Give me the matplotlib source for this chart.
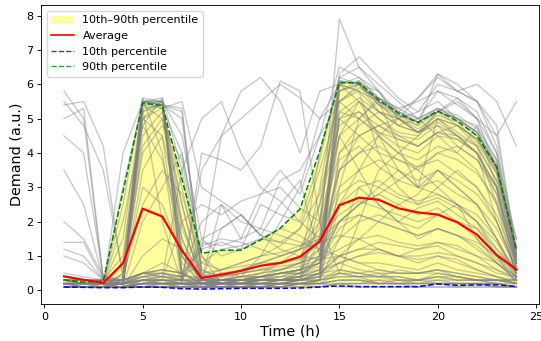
import matplotlib
matplotlib.use("Agg")
import matplotlib.pyplot as plt
from matplotlib.patches import Patch
from matplotlib.lines import Line2D

hours = list(range(1, 25))

avg = [0.41, 0.31, 0.22, 0.79, 2.38, 2.15, 1.16, 0.36, 0.46, 0.57, 0.72, 0.80,
       0.98, 1.43, 2.48, 2.70, 2.64, 2.39, 2.27, 2.21, 1.98, 1.62, 1.03, 0.61]
p10 = [0.10, 0.09, 0.08, 0.08, 0.10, 0.09, 0.05, 0.04, 0.05, 0.06, 0.06, 0.06,
       0.07, 0.10, 0.13, 0.11, 0.11, 0.11, 0.11, 0.19, 0.15, 0.16, 0.16, 0.12]
p90 = [0.31, 0.24, 0.27, 2.87, 5.45, 5.38, 3.23, 1.08, 1.17, 1.17, 1.47, 1.81,
       2.37, 4.05, 6.05, 6.04, 5.55, 5.16, 4.88, 5.23, 4.93, 4.50, 3.60, 1.18]

profiles = [
    [0.1,0.1,0.1,0.8,5.5,5.4,0.3,0.1,0.1,0.1,0.1,0.1,0.1,0.1,0.2,0.1,0.1,0.1,0.1,0.2,0.1,0.1,0.1,0.1],
    [0.2,0.1,0.1,0.2,5.4,5.5,1.5,0.1,0.2,0.1,0.1,0.2,0.1,0.3,0.5,0.4,0.2,0.3,0.2,0.3,0.2,0.2,0.2,0.1],
    [0.1,0.1,0.2,2.5,5.6,4.0,0.2,0.1,0.1,0.1,0.2,0.2,0.2,0.2,0.1,0.1,0.1,0.1,0.1,0.1,0.1,0.1,0.1,0.1],
    [0.1,0.1,0.1,0.1,4.8,5.6,3.5,0.3,0.2,0.3,0.2,0.1,0.2,0.1,0.2,0.2,0.3,0.2,0.1,0.1,0.1,0.2,0.1,0.1],
    [0.2,0.1,0.1,0.3,5.3,2.0,0.2,0.2,0.3,0.2,0.4,0.3,0.5,0.8,5.8,6.0,5.5,4.2,3.0,5.0,4.5,4.0,2.0,0.5],
    [0.1,0.1,0.1,0.1,0.1,0.2,0.1,0.1,0.1,0.2,0.1,0.2,0.3,1.0,6.0,6.1,5.6,5.2,4.9,5.3,5.0,4.6,3.7,1.0],
    [0.3,0.2,0.2,0.2,0.3,0.2,0.2,0.1,0.2,0.2,0.3,0.4,0.6,4.0,6.2,6.5,6.0,5.5,5.0,5.8,5.6,5.2,4.0,0.8],
    [0.1,0.1,0.1,0.1,0.2,0.2,0.1,0.1,0.1,0.1,0.2,0.2,0.2,0.3,3.0,5.0,5.5,4.8,5.0,4.5,4.0,4.8,3.0,0.3],
    [0.1,0.1,0.1,0.1,0.1,0.1,0.1,0.1,0.2,0.3,0.5,0.8,1.2,2.0,4.5,3.5,2.5,2.0,1.8,2.2,2.5,1.5,0.8,0.4],
    [0.4,0.3,0.2,0.2,0.5,0.4,0.3,0.2,0.2,0.3,0.3,0.3,0.4,0.5,0.6,0.5,0.6,0.5,0.5,0.6,0.5,0.4,0.3,0.3],
    [0.1,0.1,0.1,0.1,0.2,0.3,0.2,0.1,0.1,0.1,0.1,0.2,0.2,0.2,0.3,0.3,0.2,0.2,0.3,0.2,0.2,0.2,0.1,0.1],
    [5.8,5.0,0.3,0.2,5.2,5.5,0.5,0.2,0.3,0.2,0.2,0.3,0.3,0.4,0.5,0.5,0.4,0.4,0.3,0.5,0.4,0.3,0.3,0.2],
    [5.4,5.5,4.2,0.3,0.4,0.5,0.3,0.3,0.2,0.2,0.3,0.3,0.3,2.5,4.8,5.2,4.8,4.5,4.2,4.6,4.8,4.2,2.5,0.4],
    [5.0,5.3,0.3,0.2,0.4,0.3,0.2,0.2,0.2,0.3,0.3,0.3,0.3,0.4,0.8,0.6,0.5,0.5,0.5,0.6,0.5,0.4,0.3,0.3],
    [0.1,0.1,0.1,0.1,0.2,0.2,0.3,1.2,4.5,5.8,6.2,5.5,4.0,5.8,6.0,5.8,5.2,5.0,4.6,5.2,5.5,5.0,3.5,1.5],
    [0.1,0.1,0.1,0.2,0.2,0.2,0.2,4.0,3.8,3.5,4.2,6.1,5.8,2.0,0.5,0.4,0.5,0.3,0.3,0.4,0.4,0.3,0.3,0.2],
    [0.2,0.2,0.2,0.2,0.3,0.3,2.0,2.5,2.2,2.6,2.8,3.0,2.4,2.0,6.3,6.8,6.2,5.6,5.2,6.0,5.8,5.5,4.2,1.0],
    [0.1,0.1,0.1,0.5,5.6,5.5,4.5,1.5,1.0,1.2,1.5,1.8,1.6,1.2,1.0,0.8,0.6,0.5,0.5,0.6,0.4,0.3,0.3,0.2],
    [0.2,0.2,0.1,0.1,0.2,0.2,0.2,0.2,0.3,0.3,0.4,0.5,0.6,0.9,2.0,2.5,3.0,3.5,3.0,2.8,2.5,2.0,1.2,0.5],
    [0.1,0.1,0.1,0.1,0.1,0.2,0.2,0.2,0.2,0.2,0.2,0.3,0.3,0.5,1.0,1.5,2.0,2.5,2.8,3.5,3.0,2.5,1.5,0.3],
    [0.3,0.3,0.3,0.3,3.0,2.5,1.0,0.3,0.3,0.3,0.3,0.3,0.3,0.3,0.4,0.4,0.4,0.3,0.3,0.4,0.3,0.3,0.3,0.3],
    [0.1,0.1,0.1,4.0,5.5,5.4,5.0,0.5,0.2,0.2,0.2,0.2,0.2,0.2,0.3,0.3,0.2,0.2,0.2,0.2,0.2,0.2,0.2,0.1],
    [0.1,0.1,0.1,0.2,4.2,5.0,2.5,0.3,0.2,0.2,0.3,0.3,0.4,1.0,4.5,5.5,5.0,4.6,4.5,5.0,4.8,4.4,3.5,1.2],
    [0.1,0.1,0.1,0.1,0.1,0.1,0.1,0.1,0.1,0.1,0.1,0.1,0.2,0.2,0.5,2.0,3.5,4.0,4.5,5.2,5.6,5.0,4.0,1.5],
    [0.2,0.2,0.2,0.2,0.2,0.2,0.2,0.2,0.2,0.2,0.3,0.3,0.3,0.4,5.5,5.8,4.0,3.0,2.5,3.0,3.5,3.0,2.0,0.6],
    [1.4,1.4,0.3,0.3,0.3,0.4,0.4,1.3,1.5,1.4,1.2,1.0,1.2,1.4,1.6,1.5,1.2,1.0,1.2,1.3,1.0,0.8,0.5,0.4],
    [4.5,4.0,0.4,0.3,0.5,0.4,0.3,3.5,4.5,5.0,5.5,6.0,5.6,5.0,5.5,6.0,5.8,5.2,5.6,6.2,5.8,5.5,4.8,1.0],
    [0.1,0.1,0.1,0.3,5.5,5.5,2.0,0.2,0.1,0.1,0.1,0.1,0.2,0.3,0.6,0.5,0.4,0.6,0.5,0.5,0.4,0.3,0.2,0.1],
    [0.1,0.1,0.1,0.1,2.0,3.0,4.0,1.0,0.2,0.2,0.2,0.2,0.2,0.3,1.5,3.0,2.5,2.0,1.5,1.8,1.6,1.2,0.8,0.3],
    [0.3,0.2,0.2,0.2,0.3,0.3,0.3,0.3,0.3,0.4,0.5,0.6,0.8,1.5,5.0,4.5,4.0,3.8,3.5,4.0,4.2,3.8,3.0,0.8],
    [0.1,0.1,0.1,0.1,0.1,0.1,0.1,0.1,0.1,0.1,0.1,0.1,0.1,0.1,0.2,0.2,0.2,0.2,0.2,0.2,0.2,0.2,0.2,0.1],
    [0.2,0.1,0.1,0.1,0.3,0.2,0.2,0.3,2.5,2.0,1.8,3.2,3.5,4.5,6.5,6.2,5.8,5.0,5.2,5.5,5.0,4.8,3.8,0.9],
    [0.1,0.1,0.1,0.3,5.4,5.3,1.0,0.1,0.1,0.1,0.1,0.2,0.2,0.2,0.2,0.2,0.2,0.2,0.2,0.2,0.2,0.2,0.2,0.1],
    [0.1,0.1,0.1,0.1,1.0,1.5,1.2,0.2,0.1,0.1,0.1,0.1,0.2,0.3,2.5,3.5,4.5,4.0,3.5,3.0,2.5,2.0,1.0,0.2],
    [5.5,4.8,3.5,0.5,5.5,5.6,1.0,0.3,0.3,0.3,0.3,0.3,0.3,0.5,1.0,0.8,0.8,0.7,0.6,0.8,0.6,0.5,0.4,0.3],
    [0.1,0.1,0.1,0.2,0.5,0.8,0.5,0.2,0.2,0.2,0.3,0.5,0.5,0.6,0.8,1.0,1.2,1.0,0.8,1.0,0.9,0.6,0.4,0.2],
    [0.2,0.2,0.2,0.2,5.0,4.5,0.5,0.2,0.2,0.2,0.2,0.2,0.3,0.5,6.0,6.2,5.6,5.3,5.0,5.3,5.1,4.7,3.8,1.3],
    [0.1,0.1,0.1,0.1,0.1,0.1,0.2,0.2,0.2,0.2,0.2,0.3,0.5,2.0,6.1,6.0,5.4,5.1,4.8,5.2,5.0,4.5,3.5,0.8],
    [0.1,0.1,0.1,0.1,0.2,0.2,0.2,0.2,0.3,0.4,1.0,2.0,3.0,5.0,6.0,5.5,4.5,3.5,3.0,3.5,3.0,2.5,1.5,0.5],
    [0.3,0.2,0.2,1.5,5.5,5.4,5.3,0.4,0.3,0.3,0.3,0.3,0.3,0.3,0.4,0.4,0.4,0.4,0.3,0.4,0.3,0.3,0.3,0.2],
    [3.5,2.5,0.3,0.2,0.3,0.3,0.2,0.2,0.2,0.2,0.2,0.2,0.3,0.3,4.0,4.5,4.8,5.0,4.6,4.8,4.2,3.8,2.8,0.6],
    [0.1,0.1,0.1,0.1,0.1,0.1,0.1,0.3,1.8,2.2,1.6,1.4,1.8,2.8,5.2,5.0,5.6,5.3,5.5,5.8,5.4,5.0,4.5,1.2],
    [0.2,0.2,0.2,0.2,5.0,5.5,0.3,0.2,0.2,0.2,0.2,0.2,0.2,0.2,0.3,0.3,0.3,0.3,0.3,0.3,0.3,0.3,0.2,0.2],
    [0.1,0.1,0.1,0.1,0.1,0.1,0.1,0.1,0.1,0.1,0.2,0.2,0.3,1.5,7.9,6.5,5.8,5.0,4.8,6.3,6.0,5.5,4.5,5.5],
    [0.2,0.2,0.2,0.3,4.5,5.2,3.0,0.4,0.3,0.3,0.4,0.5,0.6,1.2,5.2,5.6,5.2,4.8,4.6,5.0,4.6,4.2,3.2,0.9],
    [0.3,0.3,0.3,1.0,5.4,5.0,1.8,0.5,0.6,0.7,0.8,0.8,0.9,1.4,3.5,4.0,4.2,3.8,3.6,3.8,3.4,3.0,2.2,0.7],
    [0.1,0.1,0.1,0.1,0.3,0.4,0.3,0.2,0.3,0.5,0.6,0.8,1.0,1.8,4.0,4.8,5.2,5.0,4.6,4.9,4.5,4.0,3.0,0.7],
    [0.2,0.2,0.1,0.2,3.5,4.5,2.0,0.3,0.4,0.5,0.6,0.6,0.8,1.0,2.5,3.0,3.2,2.8,2.6,2.8,2.5,2.2,1.5,0.5],
    [0.1,0.1,0.1,0.2,5.5,5.5,0.8,0.2,0.2,0.3,0.4,0.5,0.5,0.8,3.8,4.2,3.6,3.2,3.0,3.2,2.8,2.5,1.8,0.6],
    [0.2,0.1,0.1,0.1,0.2,0.3,0.3,0.3,0.4,0.6,0.8,1.0,1.2,2.5,5.8,6.0,5.4,5.0,4.7,5.1,4.9,4.3,3.4,1.1],
    [0.4,0.3,0.3,0.4,2.5,3.5,2.8,0.8,0.6,0.8,1.0,1.1,1.3,1.6,2.2,2.6,2.4,2.2,2.0,2.2,2.0,1.8,1.2,0.6],
    [0.1,0.1,0.1,0.1,0.2,0.2,0.2,0.2,0.2,0.3,0.4,0.5,0.6,0.8,1.5,2.0,2.2,2.0,2.4,2.6,2.2,1.8,1.0,0.4],
    [0.2,0.2,0.2,3.0,5.5,5.3,4.0,1.0,0.5,0.4,0.4,0.5,0.6,0.8,2.0,2.5,2.8,2.5,2.2,2.4,2.0,1.5,0.9,0.4],
    [0.1,0.1,0.1,0.1,0.1,0.1,0.1,0.1,0.2,0.2,0.3,0.3,0.4,3.0,6.0,5.8,5.5,5.1,4.9,5.2,4.8,4.4,3.6,1.2],
    [0.3,0.2,0.2,0.2,5.2,5.4,2.5,0.3,0.3,0.4,0.5,0.6,0.7,0.9,1.2,1.5,1.6,1.4,1.3,1.4,1.2,1.0,0.6,0.3],
    [0.2,0.2,0.2,0.2,0.3,0.3,0.3,0.4,0.6,0.8,1.0,1.3,1.8,3.5,5.5,5.9,5.6,5.2,5.0,5.3,5.0,4.6,3.6,1.0],
    [0.1,0.1,0.1,0.5,4.0,4.8,3.8,0.6,0.3,0.3,0.3,0.3,0.4,0.5,0.8,1.0,1.1,1.0,0.9,1.0,0.8,0.6,0.4,0.2],
    [0.3,0.3,0.2,0.2,0.4,0.5,0.4,0.4,0.5,0.6,0.8,1.0,1.2,1.5,3.0,3.5,3.8,3.5,3.2,3.5,3.2,2.8,2.0,0.6],
    [0.2,0.2,0.2,0.2,5.5,5.4,1.2,0.3,0.3,0.3,0.3,0.4,0.4,0.6,5.0,5.5,5.0,4.5,4.4,4.8,4.5,4.0,3.0,0.8],
    [0.1,0.1,0.1,0.1,0.1,0.1,0.1,0.1,0.1,0.2,0.2,0.2,0.3,0.5,6.1,6.0,5.5,5.2,4.9,5.2,5.0,4.6,3.6,1.2],
    [1.0,0.8,0.3,0.3,0.5,0.6,0.5,0.3,0.3,0.3,0.4,0.4,0.5,0.7,1.0,1.2,1.2,1.0,1.0,1.1,1.0,0.8,0.6,0.4],
    [0.2,0.2,0.2,0.2,5.3,5.4,5.2,0.6,0.4,0.5,0.6,0.7,0.8,1.0,2.8,3.2,3.0,2.7,2.5,2.7,2.4,2.0,1.4,0.5],
    [0.1,0.1,0.1,0.1,0.2,0.2,0.2,0.2,0.3,0.3,0.4,0.6,0.8,1.2,3.5,4.5,4.8,4.4,4.2,4.6,4.4,4.0,2.8,0.7],
    [0.2,0.2,0.2,2.0,4.8,3.8,1.5,0.3,0.3,0.4,0.4,0.5,0.6,0.8,1.8,2.2,2.0,1.8,1.6,1.8,1.6,1.3,0.8,0.3],
    [0.3,0.3,0.3,0.3,0.5,0.6,0.5,2.0,2.5,1.5,2.8,3.5,2.8,4.5,5.5,5.0,4.5,4.0,3.8,4.2,4.0,3.5,2.5,0.8],
    [1.2,1.0,0.3,0.3,0.5,0.5,0.4,0.8,1.2,1.3,1.5,1.4,1.3,1.5,2.0,2.2,2.0,1.8,1.6,1.8,1.6,1.4,1.0,0.5],
    [0.1,0.1,0.1,0.1,5.5,5.5,0.5,0.2,0.2,0.2,0.2,0.3,0.3,0.4,5.8,6.1,5.5,5.1,4.9,5.2,5.0,4.6,3.6,1.1],
    [0.1,0.1,0.1,0.1,0.2,0.2,0.2,0.2,0.2,0.2,0.3,0.3,0.4,0.6,3.5,4.0,4.5,5.0,5.6,6.3,5.8,6.0,5.5,4.2],
    [0.5,0.4,0.3,0.3,0.5,0.5,0.4,1.5,1.8,2.2,1.6,2.5,3.2,1.0,5.0,5.2,4.6,4.2,4.0,4.5,4.4,4.0,3.0,0.8],
    [0.3,0.2,0.2,0.2,0.4,0.4,3.5,5.0,5.5,4.0,3.0,2.6,2.0,1.5,4.5,5.0,4.6,4.4,4.2,4.6,4.5,4.2,3.2,0.9],
    [2.0,1.5,0.4,0.3,0.5,0.6,0.5,1.2,1.4,1.2,2.5,2.2,2.0,3.8,6.2,6.0,5.2,4.8,4.6,5.0,4.8,4.4,3.4,1.0],
    [0.2,0.2,0.2,0.2,0.3,0.3,0.3,1.4,1.3,1.5,1.8,1.6,1.4,1.2,2.0,2.5,2.8,3.2,3.6,4.0,3.8,3.4,2.6,0.8],
    [0.3,0.3,0.3,0.3,5.0,5.3,5.5,3.0,2.6,2.2,1.6,1.2,1.0,0.9,1.0,1.2,1.4,1.3,1.2,1.4,1.3,1.0,0.8,0.4],
]

fig = plt.figure(figsize=(5.41, 3.41), dpi=100)
ax = fig.add_axes([0.0764, 0.1085, 0.9199, 0.8755])

ax.fill_between(hours, p10, p90, color="yellow", alpha=0.38, linewidth=0, zorder=1)
for prof in profiles:
    ax.plot(hours, prof, color="gray", alpha=0.42, linewidth=1.0, zorder=2)

ax.plot(hours, avg, color="red", linewidth=1.6, zorder=4)
ax.plot(hours, p10, color="blue", linestyle="--", linewidth=1.1, zorder=3)
ax.plot(hours, p90, color="green", linestyle="--", linewidth=1.1, zorder=3)

ax.set_xlim(-0.15, 25.15)
ax.set_ylim(-0.395, 8.295)
ax.set_xticks([0, 5, 10, 15, 20, 25])
ax.tick_params(labelsize=8, length=2.8, width=0.64, pad=2.8)
for s in ax.spines.values():
    s.set_linewidth(0.64)
ax.set_xlabel("Time (h)", fontsize=10.4, labelpad=2)
ax.set_ylabel("Demand (a.u.)", fontsize=10.4, labelpad=2)

handles = [
    Patch(facecolor="yellow", alpha=0.38, label="10th\u201390th percentile"),
    Line2D([], [], color="red", linewidth=1.2, label="Average"),
    Line2D([], [], color="blue", linestyle="--", linewidth=1.0, alpha=0.8, label="10th percentile"),
    Line2D([], [], color="green", linestyle="--", linewidth=1.0, alpha=0.8, label="90th percentile"),
]
ax.legend(handles=handles, loc="upper left", fontsize=8)

fig.savefig("out.png", dpi=100)
